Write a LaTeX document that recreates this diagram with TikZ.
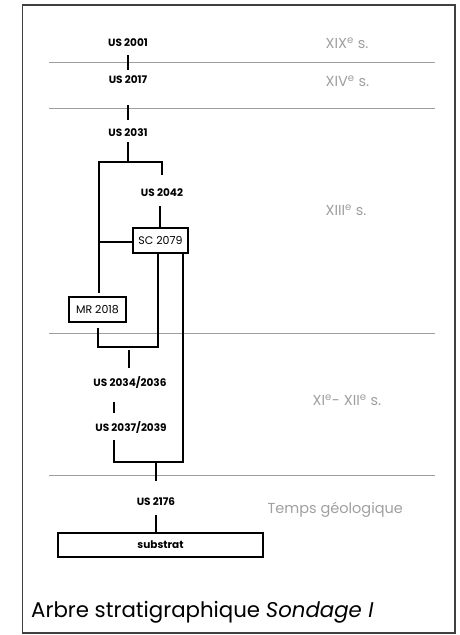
\documentclass[tikz,border=0pt]{standalone}
\usepackage{fontspec}
\setmainfont{Poppins}
\begin{document}
\begin{tikzpicture}[x=1pt,y=-1pt,
  us/.style={font=\fontsize{10.5}{11}\selectfont\bfseries, inner sep=1pt},
  boxed/.style={draw, line width=1.1pt, font=\fontsize{11}{12}\selectfont, inner sep=1pt},
  era/.style={font=\fontsize{14.5}{16}\selectfont, text=gray!75, anchor=west},
  link/.style={line width=1.1pt},
  sep/.style={line width=0.9pt, draw=gray!75}]
\useasboundingbox (0,0) rectangle (459,635);
\draw[line width=1.3pt, draw=black!75] (22.5,5) rectangle (455,633);
% separators
\coordinate (s1a) at (49,62);  \coordinate (s1b) at (435,62);
\coordinate (s2a) at (49,108); \coordinate (s2b) at (435,108);
\coordinate (s3a) at (49,333); \coordinate (s3b) at (435,333);
\coordinate (s4a) at (49,475); \coordinate (s4b) at (435,475);
\draw[sep] (s1a) -- (s1b);
\draw[sep] (s2a) -- (s2b);
\draw[sep] (s3a) -- (s3b);
\draw[sep] (s4a) -- (s4b);
% era labels
\node[era] (e1) at (322,43) {XIX\textsuperscript{e} s.};
\node[era] (e2) at (322,81) {XIV\textsuperscript{e} s.};
\node[era] (e3) at (322,210) {XIII\textsuperscript{e} s.};
\node[era] (e4) at (309,400) {XI\textsuperscript{e}- XII\textsuperscript{e} s.};
\node[era] (e5) at (264,510) {Temps géologique};
% nodes
\node[us] (u2001) at (128,43) {US 2001};
\node[us] (u2017) at (128,80) {US 2017};
\node[us] (u2031) at (128,133) {US 2031};
\node[us] (u2042) at (162,193) {US 2042};
\node[boxed, minimum width=55pt, minimum height=25pt] (sc) at (160.5,240.5) {SC 2079};
\node[boxed, minimum width=57pt, minimum height=25pt] (mr) at (97.5,309.5) {MR 2018};
\node[us] (u2034) at (130,382) {US 2034/2036};
\node[us] (u2037) at (131,427) {US 2037/2039};
\node[us] (u2176) at (156,502) {US 2176};
\node[draw, line width=1.1pt, font=\fontsize{10.5}{11}\selectfont\bfseries, minimum width=205pt, minimum height=24pt] (sub) at (160.5,545) {substrat};
% connectors
\coordinate (b1l) at (99,162); \coordinate (b1r) at (162,162);
\coordinate (b2l) at (98,347); \coordinate (b2r) at (158,347);
\coordinate (b3l) at (114,462); \coordinate (b3r) at (183,462);
\draw[link] (128,55) -- (128,70);
\draw[link] (128,105) -- (128,120);
\draw[link] (128,142) -- (128,162);
\draw[link] (99,293) -- (b1l) -- (b1r) -- (162,175);
\draw[link] (160,206) -- (sc.north -| 160,0);
\draw[link] (99,242) -- (sc.west |- 0,242);
\draw[link] (98,328) -- (b2l) -- (b2r) -- (sc.south -| 158,0);
\draw[link] (129,350) -- (129,368);
\draw[link] (114,402) -- (114,413);
\draw[link] (183,253) -- (b3r) -- (b3l) -- (114,440);
\draw[link] (156,462) -- (156,481);
\draw[link] (156,515) -- (sub.north -| 156,0);
% caption
\node[anchor=base west, font=\fontsize{21.3}{24}\selectfont, inner sep=0pt] (cap) at (31,617) {Arbre stratigraphique \textit{Sondage I}};
\end{tikzpicture}
\end{document}
